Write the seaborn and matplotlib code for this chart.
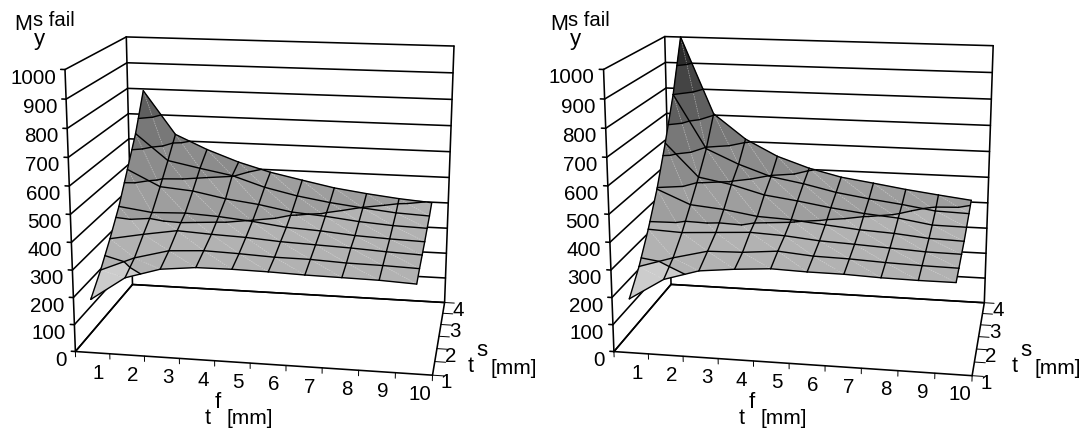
import numpy as np
import matplotlib
matplotlib.use("Agg")
import matplotlib.pyplot as plt
import seaborn as sns
from mpl_toolkits.mplot3d.art3d import Poly3DCollection, Line3DCollection

W, H = 1085, 428
tf_values = [1, 2, 3, 4, 5, 6, 7, 8, 9, 10]
ts_values = [1.0, 1.5, 2.0, 2.5, 3.0, 3.5, 4.0]
ts_labels = [1, 2, 3, 4]
z_levels = [0, 100, 200, 300, 400, 500, 600, 700, 800, 900, 1000]

# failure moment, one row per ts value, one column per tf value
moment_left = [
    [197, 283, 321, 334, 335, 333, 329, 327, 325, 319],
    [264, 316, 349, 356, 352, 346, 345, 339, 337, 333],
    [343, 366, 386, 379, 374, 365, 360, 355, 348, 343],
    [430, 413, 417, 410, 398, 382, 375, 364, 358, 354],
    [540, 479, 468, 444, 428, 405, 395, 381, 372, 368],
    [650, 550, 525, 502, 462, 434, 414, 399, 386, 380],
    [793, 625, 570, 525, 490, 464, 439, 422, 408, 398],
]
moment_right = [
    [199, 277, 315, 328, 337, 333, 332, 327, 325, 325],
    [277, 316, 347, 350, 361, 350, 347, 341, 337, 335],
    [378, 372, 379, 386, 380, 368, 362, 355, 348, 346],
    [495, 442, 430, 410, 404, 391, 379, 372, 360, 356],
    [640, 515, 492, 458, 441, 421, 405, 394, 374, 372],
    [800, 595, 540, 497, 475, 447, 428, 412, 393, 389],
    [1000, 705, 610, 547, 505, 475, 457, 438, 422, 407],
]
band_greys = ["#e6e6e6", "#d9d9d9", "#cccccc", "#b2b2b2", "#9e9e9e", "#8c8c8c",
              "#787878", "#5f5f5f", "#444444", "#2b2b2b"]

sns.set_theme(style="white", font="Liberation Sans")
plt.rcParams["font.family"] = ["Liberation Sans", "DejaVu Sans"]
band_palette = sns.color_palette(band_greys)

X0, X1, Y0, Y1 = 0.5, 10.5, 1.0, 4.0
CORNERS = [(X0, Y0, 0), (X1, Y0, 0), (X0, Y1, 0), (X1, Y1, 0),
           (X0, Y0, 1000), (X0, Y1, 1000), (X1, Y1, 1000)]
PIX_LEFT = [(75.4, 351.7), (432.5, 375), (132.5, 284.3), (444.6, 302.7),
            (65, 69.5), (126.3, 37), (454, 46)]
PIX_RIGHT = [(614, 351.7), (972, 375.7), (671, 284.3), (984.4, 302.7),
             (603.6, 69.3), (664.7, 36.7), (993.2, 45.7)]


def fit_camera(pix):
    rows = []
    for (x, y, z), (u, v) in zip(CORNERS, pix):
        p = [x, y, z, 1.0]
        rows.append(p + [0, 0, 0, 0] + [-u * c for c in p])
        rows.append([0, 0, 0, 0] + p + [-v * c for c in p])
    A = np.array(rows, float)
    S = np.diag([0.1, 0.25, 0.001, 1.0])
    A[:, 0:4] = A[:, 0:4] @ S
    A[:, 4:8] = A[:, 4:8] @ S
    A[:, 8:12] = A[:, 8:12] @ S
    _, _, vt = np.linalg.svd(A)
    return vt[-1].reshape(3, 4) @ S


def clip_band(tri, lo, hi):
    def clip(poly, level, keep_above):
        out = []
        n = len(poly)
        for i in range(n):
            a, b = poly[i], poly[(i + 1) % n]
            ina = a[2] >= level if keep_above else a[2] <= level
            inb = b[2] >= level if keep_above else b[2] <= level
            if ina:
                out.append(a)
            if ina != inb:
                t = (level - a[2]) / (b[2] - a[2])
                out.append(tuple(a[k] + t * (b[k] - a[k]) for k in range(3)))
        return out
    poly = clip(list(tri), lo, True)
    if poly:
        poly = clip(poly, hi, False)
    return poly


def contour_seg(tri, level):
    level = level + 1e-6
    pts = []
    for i in range(3):
        a, b = tri[i], tri[(i + 1) % 3]
        if (a[2] - level) * (b[2] - level) < 0:
            t = (level - a[2]) / (b[2] - a[2])
            pts.append(tuple(a[k] + t * (b[k] - a[k]) for k in range(3)))
    return pts if len(pts) == 2 else None


def add_lines(ax, polylines, lw, zorder):
    segs = []
    for pl in polylines:
        segs.extend([[pl[k], pl[k + 1]] for k in range(len(pl) - 1)])
    col = Line3DCollection(segs, colors="black", linewidths=lw, zorder=zorder, clip_on=False,
                           capstyle="round")
    ax.add_collection3d(col)


def label(fig, px, py, s, size=14.8, ha="left"):
    fig.text(px / W, 1 - py / H, s, ha=ha, va="center", fontsize=size, color="black")


def panel(fig, rect, pix, moment):
    ax = fig.add_axes(rect, projection="3d", computed_zorder=False)
    ax.set_axis_off()
    P = fit_camera(pix)

    def to_pixel(x, y, z):
        q = P @ np.array([x, y, z, 1.0])
        return q[0] / q[2], q[1] / q[2]

    def get_proj():
        to_disp = np.array([[1, 0, 0], [0, -1, H], [0, 0, 1.0]])
        T = ax.transData.inverted().get_matrix() @ to_disp
        m = T @ P
        return np.array([m[0], m[1], [0, 1, 0, 0], m[2]])
    ax.get_proj = get_proj

    # walls and floor
    walls = []
    for z in z_levels:
        walls.append([(X0, Y0, z), (X0, Y1, z), (X1, Y1, z)])
        walls.append([(X0, Y0, z), (X0 - 0.12, Y0, z)])
    for x, y in [(X0, Y0), (X0, Y1), (X1, Y1)]:
        walls.append([(x, y, 0), (x, y, 1000)])
    walls.append([(X0, Y0, 0), (X1, Y0, 0), (X1, Y1, 0), (X0, Y1, 0), (X0, Y0, 0)])
    add_lines(ax, walls, 1.15, 1)
    # ticks
    ticks = [[(x, Y0, 0), (x, Y0, -20)] for x in np.arange(X0, X1 + 0.1, 1.0)]
    ticks += [[(X1, y, 0), (X1 + 0.3, y, 0)] for y in ts_values]
    add_lines(ax, ticks, 0.7, 1)

    # surface, split into grey bands on the triangles of each cell
    Z = np.array(moment, float)
    bands = {i: [] for i in range(len(band_palette))}
    segs, diag = [], []
    for j in range(len(ts_values) - 1):
        for i in range(len(tf_values) - 1):
            a = (tf_values[i], ts_values[j], Z[j, i])
            b = (tf_values[i + 1], ts_values[j], Z[j, i + 1])
            c = (tf_values[i + 1], ts_values[j + 1], Z[j + 1, i + 1])
            d = (tf_values[i], ts_values[j + 1], Z[j + 1, i])
            diag.append([d, b])
            for tri in ((a, b, d), (b, c, d)):
                for k in bands:
                    poly = clip_band(tri, z_levels[k], z_levels[k + 1])
                    if len(poly) >= 3:
                        # the reference keeps its lightest band to the front row of cells
                        shade = 3 if (j >= 1 and k == 2) else k
                        bands[shade].append(poly)
                for level in z_levels[1:-1]:
                    s = contour_seg(tri, level)
                    if s:
                        segs.append(s)
    for k, polys in bands.items():
        if polys:
            col = Poly3DCollection(polys, facecolors=[band_palette[k]], edgecolors=[band_palette[k]],
                                   linewidths=0.4, zorder=5, clip_on=False)
            ax.add_collection3d(col)
    dg = Line3DCollection(diag, colors=[(0.9, 0.9, 0.9, 0.55)], linewidths=0.5, zorder=6, clip_on=False,
                          linestyles=[(0, (2, 1.5))])
    ax.add_collection3d(dg)
    add_lines(ax, segs, 1.0, 7)
    mesh = [[(x, y, Z[j, i]) for i, x in enumerate(tf_values)] for j, y in enumerate(ts_values)]
    mesh += [[(x, y, Z[j, i]) for j, y in enumerate(ts_values)] for i, x in enumerate(tf_values)]
    add_lines(ax, mesh, 1.0, 8)

    # tick labels
    for z in z_levels:
        px, py = to_pixel(X0, Y0, z)
        label(fig, px - 9, py + 8.5, str(z), ha="right")
    for x in tf_values:
        px, py = to_pixel(x, Y0, 0)
        label(fig, px + 6, py + 20.5, str(x), ha="center")
    for y in ts_labels:
        px, py = to_pixel(X1, y, 0)
        label(fig, px + 14, py + 7.5, str(y), ha="center")
    return ax


fig = plt.figure(figsize=(W / 100, H / 100), dpi=100, facecolor="white")
panel(fig, [0, 0, 0.5, 1], PIX_LEFT, moment_left)
panel(fig, [0.5, 0, 0.5, 1], PIX_RIGHT, moment_right)

for dx, fail_x, axis_t, depth_t in [(0, 33, 205, 468), (536, 568, 739, 1012)]:
    label(fig, 14 + dx, 24, "M", 15.5)
    label(fig, fail_x, 20, "s fail", 14.6)
    label(fig, 34 + dx, 40, "y", 16)
    label(fig, axis_t, 418, "t", 15.5)
    label(fig, axis_t + 10, 403, "f", 16)
    label(fig, axis_t + 22, 418, "[mm]", 15)
    label(fig, depth_t, 366, "t", 15.5)
    label(fig, depth_t + 8, 351, "s", 16)
    label(fig, depth_t + 23, 368, "[mm]", 15)

fig.savefig("out.png", dpi=100, facecolor="white")
